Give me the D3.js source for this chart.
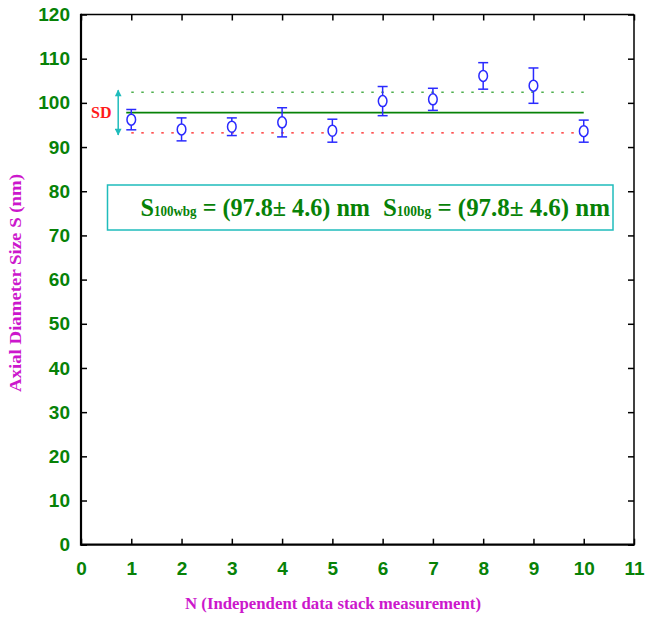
<!DOCTYPE html>
<html><head><meta charset="utf-8">
<script src="https://cdn.jsdelivr.net/npm/d3@7"></script>
<style>body{margin:0;background:#fff}</style>
</head><body>
<svg id="c" width="646" height="619"></svg>
<script>
const measurementN = [1, 2, 3, 4, 5, 6, 7, 8, 9, 10];
const sizeValues = [96.2, 94.0, 94.6, 95.6, 93.7, 100.4, 100.8, 106.1, 103.9, 93.6];
const sizeErrors = [2.3, 2.6, 2.0, 3.3, 2.6, 3.3, 2.5, 3.0, 4.0, 2.5];
const meanSize = 97.8;
const sdSize = 4.6;
const xTickValues = [0,1,2,3,4,5,6,7,8,9,10,11];
const yTickValues = [0,10,20,30,40,50,60,70,80,90,100,110,120];

const svg = d3.select("#c");
const L = 81, R = 634, T = 14.5, B = 544.7;
const x = d3.scaleLinear().domain([0, 11]).range([L, R]);
const y = d3.scaleLinear().domain([0, 120]).range([B, T]);

const green = "#078207", magenta = "#cc17cc", blue = "#2a2aff", cyan = "#1fbcbc";
const tickFont = "'Liberation Sans Narrow','Liberation Sans',Arial,sans-serif";
const serif = "'Liberation Serif','Times New Roman',serif";

function styleAxis(g, hideText) {
  g.select(".domain").remove();
  g.selectAll(".tick line").attr("stroke", "#000").attr("stroke-width", 1.5);
  g.selectAll(".tick text").attr("fill", green).attr("font-family", tickFont)
    .attr("font-weight", "bold").attr("font-size", 19);
  if (hideText) g.selectAll(".tick text").remove();
}
svg.append("g").attr("transform", `translate(0,${B})`)
  .call(d3.axisBottom(x).tickValues(xTickValues).tickSizeInner(-6).tickPadding(12).tickFormat(d3.format("d")))
  .call(g => styleAxis(g, false))
  .call(g => g.selectAll(".tick text").attr("dy", "0.95em"));
svg.append("g").attr("transform", `translate(0,${T})`)
  .call(d3.axisTop(x).tickValues(xTickValues).tickSizeInner(-6))
  .call(g => styleAxis(g, true));
svg.append("g").attr("transform", `translate(${L},0)`)
  .call(d3.axisLeft(y).tickValues(yTickValues).tickSizeInner(-6).tickPadding(11).tickFormat(d3.format("d")))
  .call(g => styleAxis(g, false));
svg.append("g").attr("transform", `translate(${R},0)`)
  .call(d3.axisRight(y).tickValues(yTickValues).tickSizeInner(-6))
  .call(g => styleAxis(g, true));

// frame
svg.append("line").attr("x1", L).attr("x2", R).attr("y1", T).attr("y2", T).attr("stroke", "#000").attr("stroke-width", 1.5);
svg.append("line").attr("x1", R).attr("x2", R).attr("y1", T).attr("y2", B).attr("stroke", "#000").attr("stroke-width", 1.5);
svg.append("line").attr("x1", L).attr("x2", L).attr("y1", T - 0.75).attr("y2", B + 1).attr("stroke", "#000").attr("stroke-width", 2.2);
svg.append("line").attr("x1", L).attr("x2", R + 0.75).attr("y1", B).attr("y2", B).attr("stroke", "#000").attr("stroke-width", 2.2);

// mean and SD lines
svg.append("line").attr("x1", x(0.9)).attr("x2", x(10)).attr("y1", y(meanSize)).attr("y2", y(meanSize))
  .attr("stroke", green).attr("stroke-width", 1.6);
svg.append("line").attr("x1", x(1)).attr("x2", x(10)).attr("y1", y(meanSize + sdSize)).attr("y2", y(meanSize + sdSize))
  .attr("stroke", "#4fb04f").attr("stroke-width", 1.6).attr("stroke-dasharray", "2.5,7.5");
svg.append("line").attr("x1", x(1)).attr("x2", x(10)).attr("y1", y(meanSize - sdSize)).attr("y2", y(meanSize - sdSize))
  .attr("stroke", "#ff1a1a").attr("stroke-width", 1.4).attr("stroke-dasharray", "2.5,7.5");

// SD arrow
const ax = x(0.74);
svg.append("defs").html(`<marker id="ah" viewBox="0 0 10 10" refX="9" refY="5" markerWidth="5" markerHeight="4.5" orient="auto-start-reverse"><path d="M0,0L10,5L0,10z" fill="${cyan}"/></marker>`);
svg.append("line").attr("x1", ax).attr("x2", ax).attr("y1", y(meanSize - sdSize) + 2).attr("y2", y(meanSize + sdSize) - 2)
  .attr("stroke", cyan).attr("stroke-width", 1.5)
  .attr("marker-start", "url(#ah)").attr("marker-end", "url(#ah)");
svg.append("text").attr("x", 111.5).attr("y", 118).attr("text-anchor", "end")
  .attr("font-family", serif).attr("font-weight", "bold").attr("font-size", 16).attr("fill", "#ff1a1a").text("SD");

// error bars and markers
const pts = measurementN.map((n, i) => ({ n, v: sizeValues[i], e: sizeErrors[i] }));
const g = svg.append("g").attr("stroke", blue).attr("stroke-width", 1.5).attr("fill", "none");
g.selectAll(".eb").data(pts).join("line").attr("x1", d => x(d.n)).attr("x2", d => x(d.n))
  .attr("y1", d => y(d.v + d.e)).attr("y2", d => y(d.v - d.e));
g.selectAll(".ct").data(pts).join("line").attr("x1", d => x(d.n) - 5).attr("x2", d => x(d.n) + 5)
  .attr("y1", d => y(d.v + d.e)).attr("y2", d => y(d.v + d.e));
g.selectAll(".cb").data(pts).join("line").attr("x1", d => x(d.n) - 5).attr("x2", d => x(d.n) + 5)
  .attr("y1", d => y(d.v - d.e)).attr("y2", d => y(d.v - d.e));
g.selectAll("ellipse").data(pts).join("ellipse").attr("cx", d => x(d.n)).attr("cy", d => y(d.v))
  .attr("rx", 4.3).attr("ry", 5.5).attr("fill", "#fff");

// annotation box
svg.append("rect").attr("x", 107.5).attr("y", 185).attr("width", 505.5).attr("height", 45)
  .attr("fill", "#fff").attr("stroke", cyan).attr("stroke-width", 1.5);
function formula(x0, len, sub) {
  const t = svg.append("text").attr("x", x0).attr("y", 216).attr("fill", green)
    .attr("font-family", serif).attr("font-weight", "bold").attr("font-size", 26)
    .attr("textLength", len).attr("lengthAdjust", "spacingAndGlyphs");
  t.append("tspan").text("S");
  t.append("tspan").attr("font-size", 14).text(sub);
  t.append("tspan").text(` = (${meanSize}± ${sdSize}) nm`);
}
formula(140.5, 229.5, "100wbg");
formula(383, 227, "100bg");

// axis titles
svg.append("text").attr("x", 333).attr("y", 609).attr("text-anchor", "middle")
  .attr("font-family", serif).attr("font-weight", "bold").attr("font-size", 17).attr("fill", magenta)
  .attr("textLength", 296).attr("lengthAdjust", "spacingAndGlyphs")
  .text("N (Independent data stack measurement)");
svg.append("text").attr("transform", "translate(21,283) rotate(-90)").attr("text-anchor", "middle")
  .attr("font-family", serif).attr("font-weight", "bold").attr("font-size", 17).attr("fill", magenta)
  .attr("textLength", 218).attr("lengthAdjust", "spacingAndGlyphs")
  .text("Axial Diameter Size S (nm)");
</script>
</body></html>
